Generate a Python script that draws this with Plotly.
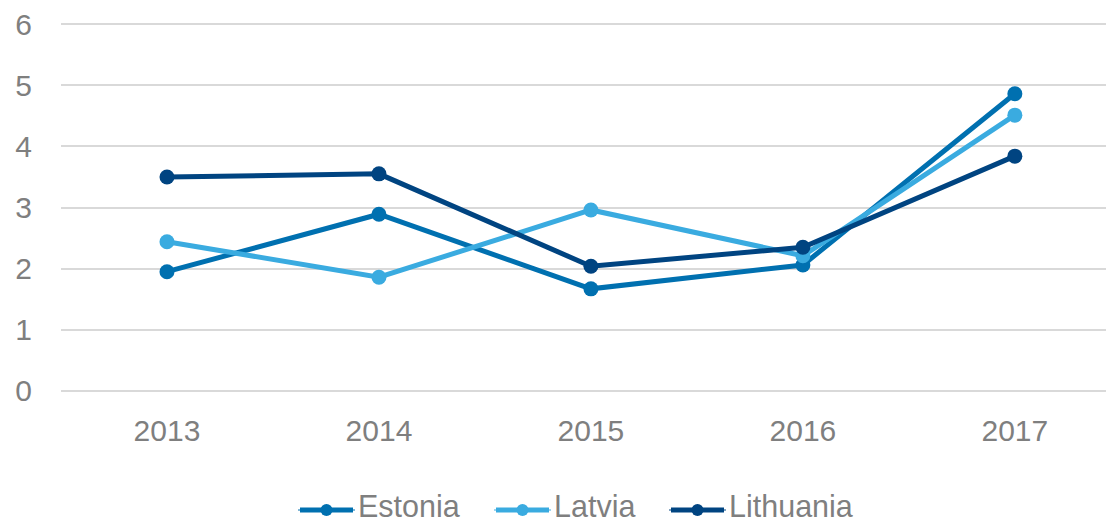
import plotly.graph_objects as go

years = ["2013", "2014", "2015", "2016", "2017"]
estonia = [1.95, 2.89, 1.67, 2.06, 4.86]
latvia = [2.44, 1.86, 2.96, 2.21, 4.51]
lithuania = [3.50, 3.55, 2.04, 2.35, 3.84]
y_ticks = [0, 1, 2, 3, 4, 5, 6]

series = [
    ("Estonia", estonia, "#0070B0"),
    ("Latvia", latvia, "#3AABE0"),
    ("Lithuania", lithuania, "#004481"),
]

W, H = 1106, 524
M_L, M_R, M_T, M_B = 61, 0, 21, 130
plot_w = W - M_L - M_R
plot_h = H - M_T - M_B

fig = go.Figure()
for name, vals, color in series:
    fig.add_trace(go.Scatter(
        x=years, y=vals, name=name, mode="lines+markers",
        line=dict(color=color, width=5),
        marker=dict(color=color, size=15),
        showlegend=False,
    ))

# Legend drawn below the plot: a short line with a dot, followed by the label.
def px_x(px):
    return (px - M_L) / plot_w

def px_y(py):
    return (H - M_B - py) / plot_h

legend_starts = [298, 494, 669]
legend_line_len = 57
legend_y = 510
legend_text_y = 506
text_color = "#7F7F7F"
font_family = "Liberation Sans, Arial, sans-serif"

shapes = []
annotations = []
for (name, _, color), x0 in zip(series, legend_starts):
    x1 = x0 + legend_line_len
    shapes.append(dict(type="line", xref="paper", yref="paper",
                       x0=px_x(x0 + 2), x1=px_x(x1 - 2), y0=px_y(legend_y), y1=px_y(legend_y),
                       line=dict(color=color, width=5)))
    shapes.append(dict(type="line", xref="paper", yref="paper",
                       x0=px_x(x0), x1=px_x(x1), y0=px_y(legend_y), y1=px_y(legend_y),
                       line=dict(color=color, width=1)))
    cx = (x0 + x1) / 2
    r = 6
    shapes.append(dict(type="circle", xref="paper", yref="paper",
                       x0=px_x(cx - r), x1=px_x(cx + r),
                       y0=px_y(legend_y + r), y1=px_y(legend_y - r),
                       fillcolor=color, line=dict(color=color, width=0)))
    annotations.append(dict(xref="paper", yref="paper", x=px_x(x1 + 1), y=px_y(legend_text_y),
                            xanchor="left", yanchor="middle", showarrow=False, text=name,
                            font=dict(family=font_family, size=30.5, color=text_color)))

fig.update_layout(
    width=W, height=H,
    margin=dict(l=M_L, r=M_R, t=M_T, b=M_B),
    plot_bgcolor="white", paper_bgcolor="white",
    font=dict(family=font_family, size=30, color=text_color),
    showlegend=False,
    shapes=shapes,
    annotations=annotations,
    xaxis=dict(type="category", range=[-0.5, 4.43], showgrid=False, zeroline=False,
               showline=False, ticks="", ticklabelstandoff=16, automargin=False,
               tickfont=dict(size=30, color=text_color)),
    yaxis=dict(range=[-0.05, 6.05], tickvals=y_ticks, showgrid=True, gridcolor="#D9D9D9",
               gridwidth=1.5, zeroline=False, showline=False, ticks="", automargin=False,
               ticklabelstandoff=28, tickfont=dict(size=30, color=text_color)),
)

fig.write_html("out.html")
